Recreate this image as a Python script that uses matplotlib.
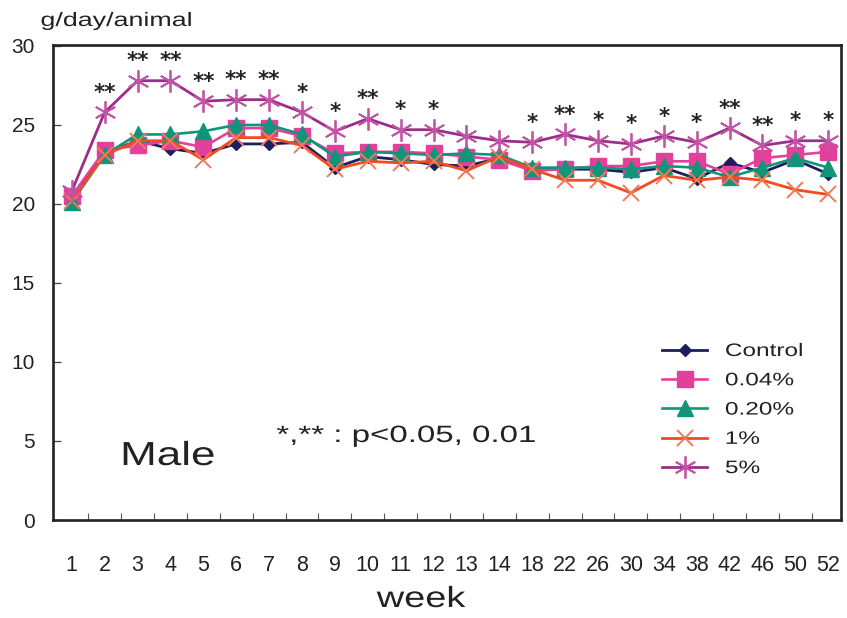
import matplotlib
matplotlib.use("Agg")
import matplotlib.pyplot as plt
from matplotlib.patheffects import AbstractPathEffect
from matplotlib.transforms import Affine2D
import numpy as np

# weekly food intake
weeks = ['1', '2', '3', '4', '5', '6', '7', '8', '9', '10', '11', '12', '13', '14',
         '18', '22', '26', '30', '34', '38', '42', '46', '50', '52']

control = [20.3, 23.2, 24.0, 23.5, 23.2, 23.8, 23.8, 23.9, 22.3, 23.0, 22.8, 22.5,
           22.4, 22.9, 22.2, 22.2, 22.2, 22.0, 22.3, 21.6, 22.6, 22.0, 22.8, 21.9]
dose_004 = [20.5, 23.4, 23.7, 24.0, 23.6, 24.8, 24.8, 24.3, 23.2, 23.3, 23.3, 23.2,
            23.0, 22.8, 22.1, 22.2, 22.4, 22.4, 22.7, 22.7, 21.9, 22.9, 23.1, 23.3]
dose_020 = [20.1, 23.1, 24.4, 24.4, 24.6, 25.0, 25.0, 24.4, 23.0, 23.3, 23.2, 23.1,
            23.2, 23.1, 22.3, 22.3, 22.3, 22.2, 22.4, 22.3, 21.7, 22.3, 22.9, 22.3]
dose_1 = [20.2, 23.1, 24.0, 24.0, 22.8, 24.2, 24.2, 23.7, 22.2, 22.7, 22.6, 22.7,
          22.1, 23.0, 22.2, 21.5, 21.5, 20.7, 21.8, 21.5, 21.7, 21.5, 20.9, 20.6]
dose_5 = [20.8, 25.8, 27.8, 27.8, 26.5, 26.6, 26.6, 25.8, 24.6, 25.4, 24.7, 24.7,
          24.3, 24.0, 23.9, 24.4, 24.0, 23.8, 24.3, 23.9, 24.8, 23.7, 24.0, 24.0]

signif = ['', '**', '**', '**', '**', '**', '**', '*', '*', '**', '*', '*',
          '', '', '*', '**', '*', '*', '*', '*', '**', '**', '*', '*']


class Widen(AbstractPathEffect):
    """Stretch text horizontally (the original figure has wide lettering)."""
    def __init__(self, sx, anchor='center'):
        super().__init__()
        self.sx = sx
        self.anchor = anchor

    def draw_path(self, renderer, gc, tpath, affine, rgbFace=None):
        ext = tpath.get_extents(affine)
        x0 = ext.x0 if self.anchor == 'left' else (ext.x0 + ext.x1) / 2
        tr = affine + Affine2D().translate(-x0, 0).scale(self.sx, 1).translate(x0, 0)
        renderer.draw_path(gc, tpath, tr, rgbFace)


plt.rcParams['font.family'] = ['Liberation Sans', 'DejaVu Sans']
ink = '#222222'

W, H = 847, 618
fig = plt.figure(figsize=(W / 100, H / 100), dpi=100)
ax = fig.add_axes([53 / W, 1 - 520 / H, (841 - 53) / W, (520 - 45) / H])

x = np.arange(len(weeks))

series = [
    ('Control', control, dict(color='#1c1f5c', marker='D', ms=6, lw=2.0)),
    ('0.04%', dose_004, dict(color='#e4409b', marker='s', ms=12, lw=1.9)),
    ('0.20%', dose_020, dict(color='#11957a', marker='^', ms=11, lw=1.9)),
    ('1%', dose_1, dict(color='#f04a26', marker='x', ms=11, mew=1.4, lw=2.0,
                        mec='#f27a55')),
    ('5%', dose_5, dict(color='#9a2f8a', marker=(6, 2, 0), ms=16, mew=1.3, lw=2.0,
                        mec='#c452a6')),
]
for name, vals, style in series:
    ax.plot(x, vals, label=name, **style)

# significance marks above the 5% group
for i, s in enumerate(signif):
    if s:
        ax.text(x[i], dose_5[i] + 0.85, s, ha='center', va='baseline',
                fontsize=15.5, fontweight='bold', color=ink, family='DejaVu Sans')

ax.set_xlim(-0.57, 23.39)
ax.set_ylim(0, 30.06)
ax.set_yticks([0, 5, 10, 15, 20, 25, 30])
ax.set_xticks(x)
ax.set_xticklabels(weeks)
ax.set_xticks(np.arange(len(weeks) - 1) + 0.5, minor=True)
ax.tick_params(axis='x', which='major', length=0, pad=25, labelsize=15.5, labelcolor=ink)
ax.tick_params(axis='x', which='minor', direction='in', length=5, width=0.8, color='#555555')
ax.tick_params(axis='y', direction='in', length=6, width=0.9, pad=13, labelsize=15,
               labelcolor=ink, color='#444444')
for sp in ax.spines.values():
    sp.set_linewidth(1.9)
    sp.set_color(ink)

leg = ax.legend(loc='upper left', bbox_to_anchor=(662 / W, 1 - 343 / H),
                bbox_transform=fig.transFigure, frameon=False, fontsize=13,
                borderpad=0, borderaxespad=0, handlelength=2.5, handletextpad=1.0,
                labelspacing=0.68)
for t in leg.get_texts():
    t.set_color(ink)
    t.set_path_effects([Widen(1.35, anchor='left')])

t1 = fig.text(117 / W, 1 - 26 / H, 'g/day/animal', ha='center', va='baseline',
              fontsize=14, color=ink)
t2 = fig.text(168 / W, 1 - 465 / H, 'Male', ha='center', va='baseline',
              fontsize=24, color=ink)
t3 = fig.text(406 / W, 1 - 442 / H, '*,** : p<0.05, 0.01', ha='center', va='baseline',
              fontsize=17, color=ink)
t4 = fig.text(421 / W, 1 - 607 / H, 'week', ha='center', va='baseline',
              fontsize=21, color=ink)
t1.set_path_effects([Widen(1.38)])
t2.set_path_effects([Widen(1.32)])
t3.set_path_effects([Widen(1.4)])
t4.set_path_effects([Widen(1.3)])

fig.savefig('out.png', dpi=100)
